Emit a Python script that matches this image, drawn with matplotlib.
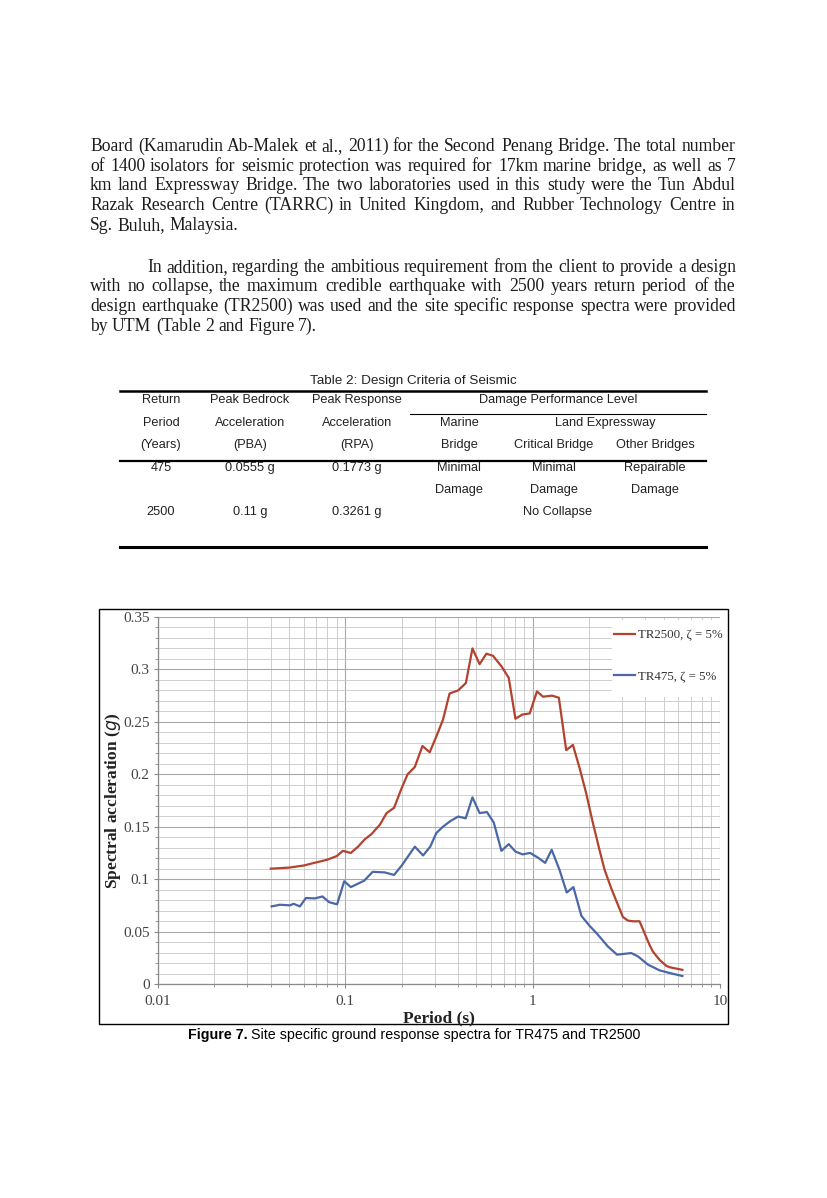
import matplotlib
matplotlib.use("Agg")
import matplotlib.pyplot as plt
from matplotlib.patches import Rectangle
from matplotlib.ticker import FixedLocator, LogLocator, MultipleLocator, NullFormatter

PAGE_W, PAGE_H = 827, 1198

# body text, line by line as set on the page
PARA_1 = [
    "Board (Kamarudin Ab-Malek et al., 2011) for the Second Penang Bridge. The total number",
    "of 1400 isolators for seismic protection was required for 17km marine bridge, as well as 7",
    "km land Expressway Bridge. The two laboratories used in this study were the Tun Abdul",
    "Razak Research Centre (TARRC) in United Kingdom, and Rubber Technology Centre in",
    "Sg. Buluh, Malaysia.",
]
PARA_2 = [
    "In addition, regarding the ambitious requirement from the client to provide a design",
    "with no collapse, the maximum credible earthquake with 2500 years return period of the",
    "design earthquake (TR2500) was used and the site specific response spectra were provided",
    "by UTM (Table 2 and Figure 7).",
]

TABLE_TITLE = "Table 2: Design Criteria of Seismic"
TABLE_ROWS = [
    ["Return", "Peak Bedrock", "Peak Response", "Damage Performance Level"],
    ["Period", "Acceleration", "Acceleration", "Marine", "Land Expressway"],
    ["(Years)", "(PBA)", "(RPA)", "Bridge", "Critical Bridge", "Other Bridges"],
    ["475", "0.0555 g", "0.1773 g", "Minimal", "Minimal", "Repairable"],
    ["", "", "", "Damage", "Damage", "Damage"],
    ["2500", "0.11 g", "0.3261 g", "No Collapse"],
]

# response spectra
PERIOD_2500 = [0.04, 0.05, 0.06, 0.07, 0.08, 0.09, 0.097, 0.107, 0.117, 0.127,
               0.138, 0.153, 0.166, 0.182, 0.20, 0.215, 0.235, 0.258, 0.282, 0.306,
               0.332, 0.36, 0.40, 0.44, 0.477, 0.521, 0.566, 0.614, 0.681, 0.745,
               0.809, 0.881, 0.964, 1.054, 1.135, 1.27, 1.38, 1.51, 1.64, 1.78,
               1.93, 2.10, 2.28, 2.42, 2.63, 2.80, 3.03, 3.22, 3.43, 3.72,
               4.2, 4.38, 4.76, 5.16, 5.38, 6.3]
SA_2500 = [0.110, 0.111, 0.113, 0.116, 0.1185, 0.122, 0.127, 0.125, 0.131, 0.138,
           0.143, 0.152, 0.163, 0.168, 0.187, 0.200, 0.207, 0.227, 0.221, 0.236,
           0.252, 0.277, 0.280, 0.287, 0.320, 0.305, 0.315, 0.313, 0.303, 0.292,
           0.253, 0.257, 0.258, 0.279, 0.274, 0.275, 0.273, 0.223, 0.228, 0.206,
           0.182, 0.153, 0.127, 0.109, 0.091, 0.079, 0.064, 0.0605, 0.0598, 0.0598,
           0.0375, 0.031, 0.023, 0.0174, 0.016, 0.0135]

PERIOD_475 = [0.0404, 0.0448, 0.0506, 0.0529, 0.0572, 0.0616, 0.0687, 0.0755, 0.082, 0.0904,
              0.0986, 0.107, 0.126, 0.14, 0.1625, 0.182, 0.20, 0.235, 0.26, 0.284,
              0.306, 0.332, 0.361, 0.40, 0.439, 0.477, 0.521, 0.57, 0.62, 0.681,
              0.745, 0.81, 0.884, 0.97, 1.067, 1.166, 1.263, 1.39, 1.52, 1.65,
              1.82, 2.01, 2.23, 2.52, 2.82, 3.36, 3.65, 4.13, 4.76, 5.38, 6.3]
SA_475 = [0.074, 0.0756, 0.075, 0.0765, 0.074, 0.082, 0.0816, 0.0835, 0.078, 0.076,
          0.098, 0.0924, 0.0985, 0.107, 0.1064, 0.104, 0.113, 0.131, 0.1226, 0.131,
          0.144, 0.150, 0.155, 0.1597, 0.158, 0.178, 0.163, 0.164, 0.154, 0.127,
          0.1334, 0.1262, 0.1236, 0.125, 0.1205, 0.1155, 0.128, 0.109, 0.0873, 0.0924,
          0.065, 0.0556, 0.047, 0.0358, 0.028, 0.0295, 0.0263, 0.0184, 0.013, 0.0105, 0.0076]

Y_TICKS = [0, 0.05, 0.1, 0.15, 0.2, 0.25, 0.3, 0.35]
Y_TICK_LABELS = ["0", "0.05", "0.1", "0.15", "0.2", "0.25", "0.3", "0.35"]
X_TICKS = [0.01, 0.1, 1, 10]
X_TICK_LABELS = ["0.01", "0.1", "1", "10"]

RED = "#b3422e"
BLUE = "#4a68a8"
SERIF = "Liberation Serif"
SANS = "Liberation Sans"


def place_line(ax, renderer, line, x0, x1, y, justify, **kw):
    words = line.split()
    texts = [ax.text(0, y, w, va="baseline", ha="left", **kw) for w in words]
    widths = [t.get_window_extent(renderer).width for t in texts]
    if justify and len(words) > 1:
        gap = (x1 - x0 - sum(widths)) / (len(words) - 1)
    else:
        gap = kw.get("fontsize", 12) * 100 / 72 * 0.25
    x = x0
    for t, w in zip(texts, widths):
        t.set_x(round(x))
        x += w + gap


fig = plt.figure(figsize=(PAGE_W / 100, PAGE_H / 100), dpi=100)
page = fig.add_axes([0, 0, 1, 1], zorder=0)
page.set_xlim(0, PAGE_W)
page.set_ylim(PAGE_H, 0)
page.axis("off")
renderer = fig.canvas.get_renderer()

body = dict(fontsize=12.7, family=SERIF, color="#1c1c1c")
for i, line in enumerate(PARA_1):
    last = i == len(PARA_1) - 1
    place_line(page, renderer, line, 90, 736, round(151 + i * 19.7), not last, **body)
for i, line in enumerate(PARA_2):
    last = i == len(PARA_2) - 1
    x0 = 147 if i == 0 else 90
    place_line(page, renderer, line, x0, 736, round(271.5 + i * 19.7), not last, **body)

# table
tab = dict(fontsize=9.2, family=SANS, color="#222222", ha="center", va="center")
page.text(413, 381, TABLE_TITLE, fontsize=9.7, family=SANS, color="#222222",
          ha="center", va="center")
col_x = {
    0: [161, 250, 357, 558],
    1: [161, 250, 357, 459, 605],
    2: [161, 250, 357, 459, 554, 655],
    3: [161, 250, 357, 459, 554, 655],
    4: [161, 250, 357, 459, 554, 655],
    5: [161, 250, 357, 558],
}
row_y = [400, 423, 445, 468, 490, 512]
for r, row in enumerate(TABLE_ROWS):
    for c, cell in enumerate(row):
        if cell:
            page.text(col_x[r][c], row_y[r], cell, **tab)
page.plot([120, 706], [391, 391], color="black", lw=1.8)
page.plot([410, 706], [414, 414], color="black", lw=0.8)
page.plot([120, 706], [461, 461], color="black", lw=1.6)
page.plot([120, 706], [547, 547], color="black", lw=2.2)

# chart frame
page.add_patch(Rectangle((99, 609), 629, 415, fill=False, edgecolor="black", lw=1.0))

# caption
cap_bold = page.text(188, 1035, "Figure 7.", fontsize=10.3, family=SANS, weight="bold",
                     color="black", ha="left", va="center")
bw = cap_bold.get_window_extent(renderer).width
page.text(188 + bw + 3, 1035, "Site specific ground response spectra for TR475 and TR2500",
          fontsize=10.3, family=SANS, color="black", ha="left", va="center")

# spectra chart
ax = fig.add_axes([158 / PAGE_W, 1 - 984 / PAGE_H, 562 / PAGE_W, 367 / PAGE_H], zorder=2)
ax.plot(PERIOD_2500, SA_2500, color=RED, lw=1.6, label="TR2500, ζ = 5%", zorder=3)
ax.plot(PERIOD_475, SA_475, color=BLUE, lw=1.6, label="TR475, ζ = 5%", zorder=3)
ax.set_xscale("log")
ax.set_xlim(0.01, 10)
ax.set_ylim(0, 0.35)
ax.xaxis.set_major_locator(FixedLocator(X_TICKS))
ax.set_xticklabels(X_TICK_LABELS)
ax.xaxis.set_minor_locator(LogLocator(base=10, subs=range(2, 10)))
ax.xaxis.set_minor_formatter(NullFormatter())
ax.set_yticks(Y_TICKS)
ax.set_yticklabels(Y_TICK_LABELS)
ax.yaxis.set_minor_locator(MultipleLocator(0.01))
ax.grid(True, which="major", color="#a8a8a8", lw=0.8)
ax.grid(True, which="minor", color="#c8c8c8", lw=0.6)
ax.set_axisbelow(True)
for side in ["top", "right"]:
    ax.spines[side].set_visible(False)
for side in ["left", "bottom"]:
    ax.spines[side].set_color("#8a8a8a")
    ax.spines[side].set_linewidth(0.9)
ax.tick_params(which="both", colors="#8a8a8a", direction="out")
ax.tick_params(which="major", length=3, labelsize=11, labelcolor="#444444", pad=3)
ax.tick_params(axis="x", which="major", pad=5)
ax.tick_params(which="minor", length=2.5)
for lab in ax.get_xticklabels() + ax.get_yticklabels():
    lab.set_family(SERIF)

ax.set_ylabel("Spectral accleration ($\\mathit{g}$)", family=SERIF, weight="bold",
              fontsize=12.5, color="#222222")
ax.yaxis.set_label_coords(-0.062, 0.5)
ax.set_xlabel("Period (s)", family=SERIF, weight="bold", fontsize=12.5, color="#222222")
ax.xaxis.set_label_coords(0.5, -0.071)

# blank patch behind the legend, as in the source figure
ax.add_patch(Rectangle(((612 - 158) / 562, (984 - 697) / 367), (720 - 612) / 562,
                       (697 - 620) / 367, transform=ax.transAxes, facecolor="white",
                       edgecolor="none", zorder=1))
leg = ax.legend(loc="upper left", bbox_to_anchor=((614 - 158) / 562, (984 - 629) / 367),
                borderaxespad=0, borderpad=0, frameon=False, handlelength=1.6,
                handletextpad=0.25, labelspacing=2.3,
                prop={"family": SERIF, "size": 9.3})
for t in leg.get_texts():
    t.set_color("#333333")

fig.savefig("out.png", dpi=100)
